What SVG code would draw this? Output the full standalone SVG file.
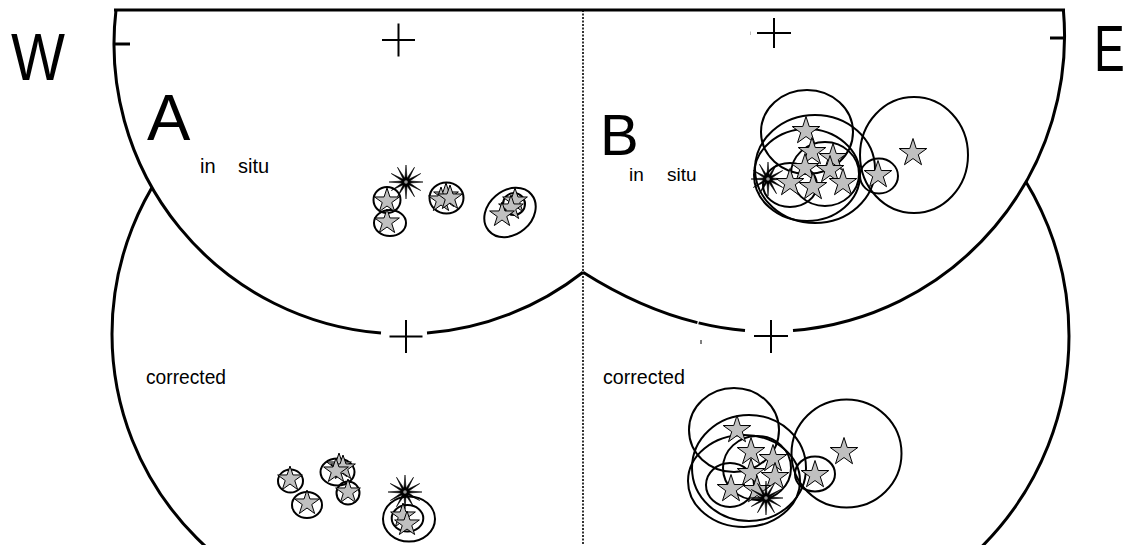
<svg xmlns="http://www.w3.org/2000/svg" xmlns:xlink="http://www.w3.org/1999/xlink" width="1127" height="545" viewBox="0 0 1127 545">
<style>
  .frame{fill:none;stroke:#000;stroke-width:3}
  .wash{fill:#fff;stroke:none}
  .cross{fill:none;stroke:#000;stroke-width:2}
  .dotted{fill:none;stroke:#000;stroke-width:1.6;stroke-dasharray:2 1.5}
  .ell{fill:none;stroke:#000;stroke-width:2}
  .lbl{font-family:"Liberation Sans",Arial,sans-serif;fill:#000}
  .star{fill:#c0c0c0;stroke:#000;stroke-width:1}
  .burst{fill:#000;stroke:#000;stroke-width:0.6}
</style>
<defs>
  <clipPath id="clipL"><rect x="0" y="0" width="583" height="545"/></clipPath>
  <clipPath id="clipR"><rect x="583" y="0" width="544" height="545"/></clipPath>
  <path id="sA" class="star" d="M0,-13 L2.939,-4.045 12.364,-4.017 4.755,1.545 7.641,10.517 0,5 -7.641,10.517 -4.755,1.545 -12.364,-4.017 -2.939,-4.045Z"/>
  <path id="sB" class="star" d="M0,-14.5 L3.257,-4.483 13.790,-4.481 5.270,1.712 8.523,11.731 0,5.54 -8.523,11.731 -5.270,1.712 -13.790,-4.481 -3.257,-4.483Z"/>
  <g id="bst">
    <path class="burst" d="M0,-17 L1.035,-3.864 8.5,-14.722 2.828,-2.828 14.722,-8.5 3.864,-1.035 17,0 3.864,1.035 14.722,8.5 2.828,2.828 8.5,14.722 1.035,3.864 0,17 -1.035,3.864 -8.5,14.722 -2.828,2.828 -14.722,8.5 -3.864,1.035 -17,0 -3.864,-1.035 -14.722,-8.5 -2.828,-2.828 -8.5,-14.722 -1.035,-3.864Z"/>
    <circle r="1.8" fill="#999"/>
  </g>
</defs>

<!-- lower (corrected) nets -->
<g id="net-A-corrected">
  <circle class="frame" cx="400" cy="334" r="288" clip-path="url(#clipL)"/>
</g>
<g id="net-B-corrected">
  <circle class="frame" cx="771" cy="336" r="298" clip-path="url(#clipR)"/>
</g>

<!-- upper (in situ) nets -->
<g id="net-A-insitu">
  <path class="wash" d="M583,10 L116,10 A290,290 0 0,0 583,272.2 Z"/>
  <path class="frame" d="M116,10 A290,290 0 0,0 381,333.1"/>
  <path class="frame" d="M427,333.1 A290,290 0 0,0 583,272.2"/>
  <line class="frame" x1="113" y1="44" x2="130" y2="44"/>
</g>
<g id="net-B-insitu">
  <path class="wash" d="M583,10 L1063.4,10 A295.5,295.5 0 0,1 698,322.8 Q640,308.4 583,272.2 Z"/>
  <path class="frame" d="M1063.4,10 A295.5,295.5 0 0,1 793,330.5"/>
  <path class="frame" d="M745,330.5 A295.5,295.5 0 0,1 698.6,322.9"/>
  <path class="frame" d="M697.4,322.6 Q640,308.4 583,272.2"/>
  <line class="frame" x1="1050" y1="38" x2="1065" y2="38"/>
</g>

<g id="frame-top">
  <line class="frame" x1="114" y1="10" x2="1065" y2="10"/>
</g>

<g id="divider">
  <line class="dotted" x1="583" y1="10" x2="583" y2="545"/>
</g>

<g id="crosses">
  <path class="cross" d="M382,40 H415 M398.5,23.5 V56.5"/>
  <path class="cross" d="M757,33 H791 M774,18 V48"/>
  <path class="cross" d="M389.5,336.5 H422.5 M406,320 V353"/>
  <path class="cross" d="M754,336 H788 M771,320 V353"/>
  <line x1="701" y1="340" x2="701" y2="344" stroke="#000" stroke-width="1"/>
  <line x1="750.5" y1="31.5" x2="750.5" y2="35" stroke="#bbb" stroke-width="1"/>
</g>

<g id="labels">
  <text class="lbl" x="11" y="80" font-size="67" textLength="54" lengthAdjust="spacingAndGlyphs">W</text>
  <text class="lbl" transform="translate(1094,71) scale(0.72,1)" font-size="64">E</text>
  <text class="lbl" x="147" y="140" font-size="65">A</text>
  <text class="lbl" x="600" y="155" font-size="58">B</text>
  <text class="lbl" x="200" y="173" font-size="20">in <tspan x="238">situ</tspan></text>
  <text class="lbl" x="629" y="181" font-size="19">in <tspan x="667">situ</tspan></text>
  <text class="lbl" x="146" y="384" font-size="21" textLength="80" lengthAdjust="spacingAndGlyphs">corrected</text>
  <text class="lbl" x="603" y="384" font-size="21" textLength="82" lengthAdjust="spacingAndGlyphs">corrected</text>
</g>

<g id="data-A-insitu">
  <use xlink:href="#bst" href="#bst" x="406" y="182"/>
  <ellipse class="ell" cx="387" cy="200" rx="13.5" ry="13"/>
  <ellipse class="ell" cx="390" cy="223" rx="16" ry="13"/>
  <use xlink:href="#sA" href="#sA" x="387" y="201"/>
  <use xlink:href="#sA" href="#sA" x="387" y="222"/>
  <ellipse class="ell" cx="446.5" cy="198" rx="17" ry="15.5"/>
  <use xlink:href="#sA" href="#sA" x="446" y="196"/>
  <use xlink:href="#sA" href="#sA" x="441" y="200"/>
  <use xlink:href="#sA" href="#sA" x="450" y="198"/>
  <ellipse class="ell" cx="510" cy="212.5" rx="28" ry="22" transform="rotate(-40 510 212.5)"/>
  <circle class="ell" cx="514" cy="204" r="11"/>
  <use xlink:href="#sA" href="#sA" x="515" y="201"/>
  <use xlink:href="#sA" href="#sA" x="511" y="208"/>
  <use xlink:href="#sA" href="#sA" x="502" y="215"/>
</g>

<g id="data-A-corrected">
  <ellipse class="ell" cx="290.5" cy="481" rx="12.5" ry="11.5"/>
  <use xlink:href="#sA" href="#sA" x="290" y="479"/>
  <ellipse class="ell" cx="307" cy="505" rx="15" ry="13"/>
  <use xlink:href="#sA" href="#sA" x="307" y="503"/>
  <ellipse class="ell" cx="337.5" cy="472" rx="17" ry="13.5"/>
  <use xlink:href="#sA" href="#sA" x="339" y="466"/>
  <use xlink:href="#sA" href="#sA" x="343" y="468"/>
  <use xlink:href="#sA" href="#sA" x="336" y="471"/>
  <ellipse class="ell" cx="348" cy="493" rx="11.5" ry="11.5"/>
  <use xlink:href="#sA" href="#sA" x="348" y="492"/>
  <use xlink:href="#bst" href="#bst" x="405" y="492"/>
  <ellipse class="ell" cx="409" cy="519" rx="26" ry="22.5"/>
  <ellipse class="ell" cx="407.5" cy="518.3" rx="15.8" ry="13.3"/>
  <use xlink:href="#sA" href="#sA" x="403" y="516"/>
  <use xlink:href="#sA" href="#sA" x="407" y="524"/>
</g>

<g id="data-B-insitu">
  <ellipse class="ell" cx="807" cy="132" rx="46" ry="42"/>
  <ellipse class="ell" cx="815" cy="169" rx="60" ry="54"/>
  <ellipse class="ell" cx="807" cy="175" rx="53" ry="46"/>
  <ellipse class="ell" cx="825" cy="174" rx="34" ry="32"/>
  <ellipse class="ell" cx="790" cy="185" rx="27" ry="22"/>
  <ellipse class="ell" cx="879" cy="176" rx="19" ry="17.5"/>
  <ellipse class="ell" cx="914" cy="155" rx="54" ry="58"/>
  <use xlink:href="#bst" href="#bst" x="768" y="179"/>
  <use xlink:href="#sB" href="#sB" x="806" y="131"/>
  <use xlink:href="#sB" href="#sB" x="812" y="152"/>
  <use xlink:href="#sB" href="#sB" x="833" y="158"/>
  <use xlink:href="#sB" href="#sB" x="805" y="168"/>
  <use xlink:href="#sB" href="#sB" x="830" y="170"/>
  <use xlink:href="#sB" href="#sB" x="790" y="183"/>
  <use xlink:href="#sB" href="#sB" x="813" y="187"/>
  <use xlink:href="#sB" href="#sB" x="843" y="183"/>
  <use xlink:href="#sB" href="#sB" x="878" y="175"/>
  <use xlink:href="#sB" href="#sB" x="913" y="153"/>
</g>

<g id="data-B-corrected">
  <ellipse class="ell" cx="734" cy="430" rx="45" ry="42"/>
  <ellipse class="ell" cx="749" cy="468" rx="57" ry="53"/>
  <ellipse class="ell" cx="744" cy="481" rx="56" ry="46"/>
  <ellipse class="ell" cx="757" cy="468" rx="34" ry="32"/>
  <ellipse class="ell" cx="730" cy="485" rx="24" ry="22"/>
  <ellipse class="ell" cx="815" cy="474" rx="20" ry="17.5"/>
  <ellipse class="ell" cx="846.5" cy="453.5" rx="55" ry="54"/>
  <use xlink:href="#sB" href="#sB" x="737" y="430"/>
  <use xlink:href="#sB" href="#sB" x="751" y="452"/>
  <use xlink:href="#sB" href="#sB" x="773" y="459"/>
  <use xlink:href="#sB" href="#sB" x="751" y="473"/>
  <use xlink:href="#sB" href="#sB" x="775" y="477"/>
  <use xlink:href="#sB" href="#sB" x="757" y="490"/>
  <use xlink:href="#sB" href="#sB" x="731" y="489"/>
  <use xlink:href="#bst" href="#bst" x="766" y="498"/>
  <use xlink:href="#sB" href="#sB" x="815" y="475"/>
  <use xlink:href="#sB" href="#sB" x="844" y="452"/>
</g>
</svg>
